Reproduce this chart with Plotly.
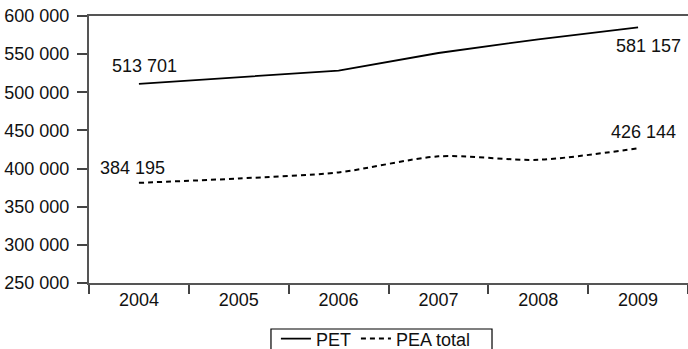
import plotly.graph_objects as go

years = ["2004", "2005", "2006", "2007", "2008", "2009"]
pet = [511000, 520000, 528500, 551500, 569500, 585000]
pea_total = [381300, 387000, 395000, 416000, 411500, 426700]
series_names = ["PET", "PEA total"]
label_values_pet = [513701, 581157]
label_values_pea = [384195, 426144]
y_ticks = [250000, 300000, 350000, 400000, 450000, 500000, 550000, 600000]


def fmt(v):
    return f"{v:,}".replace(",", " ")


FONT = "Liberation Sans, Arial, Helvetica, sans-serif"

fig = go.Figure()
fig.add_trace(go.Scatter(x=years, y=pet, name=series_names[0], mode="lines",
                         line=dict(color="black", width=1.8)))
fig.add_trace(go.Scatter(x=years, y=pea_total, name=series_names[1], mode="lines",
                         line=dict(color="black", width=2, dash="5px,4px", shape="spline",
                                   smoothing=0.8)))

last = len(years) - 1
ann = [
    (0, pet[0], label_values_pet[0], 6, 18),
    (last, pet[-1], label_values_pet[1], 10, -19),
    (0, pea_total[0], label_values_pea[0], -6, 15),
    (last, pea_total[-1], label_values_pea[1], 5, 16),
]
for x, y, v, xs, ys in ann:
    fig.add_annotation(x=x, y=y, xref="x", yref="y", text=fmt(v), showarrow=False,
                       xshift=xs, yshift=ys,
                       font=dict(size=18, color="#111", family=FONT))

# legend frame
fig.add_shape(type="rect", xref="paper", yref="paper", x0=0.3038, x1=0.6728,
              y0=-0.26, y1=-0.1723, line=dict(color="black", width=1.2),
              fillcolor="rgba(0,0,0,0)")

fig.update_layout(
    width=688, height=349,
    margin=dict(l=89, r=0, t=16, b=66, autoexpand=False),
    paper_bgcolor="white", plot_bgcolor="white",
    font=dict(family=FONT, size=18, color="#111"),
    separators=", ",
    showlegend=True,
    legend=dict(orientation="h", x=0.479, xanchor="center", y=-0.14, yanchor="top",
                bgcolor="rgba(0,0,0,0)", borderwidth=0, font=dict(size=18),
                itemwidth=30, tracegroupgap=0),
)
fig.update_xaxes(type="category", tickson="boundaries", ticks="outside", ticklen=9,
                 tickcolor="#444", tickwidth=1.5, showline=True, linecolor="#555",
                 linewidth=1.5, mirror=True, showgrid=False, zeroline=False,
                 range=[-0.5, 5.5], automargin=False)
fig.update_yaxes(range=[250000, 600000], tickvals=y_ticks, tickformat=",d",
                 ticks="outside", ticklen=10, tickcolor="#444", tickwidth=1.5,
                 showline=True, linecolor="#555", linewidth=2, showgrid=False,
                 zeroline=False, ticklabelstandoff=4, automargin=False)

fig.write_html("out.html", config={"displayModeBar": False},
               post_script="document.body.style.margin='0';document.body.style.overflow='hidden';")
